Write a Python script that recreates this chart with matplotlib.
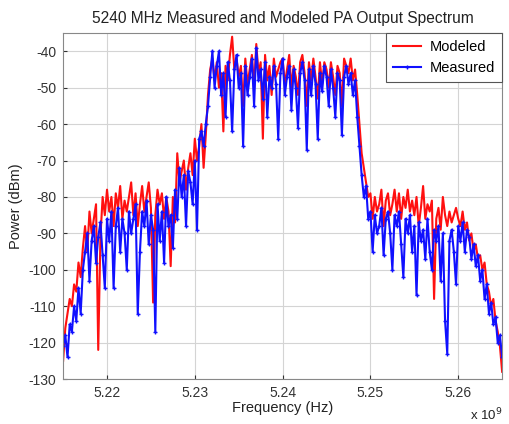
import numpy as np
import matplotlib
matplotlib.use("Agg")
import matplotlib.pyplot as plt
from matplotlib.ticker import FuncFormatter

plt.rcParams['font.family'] = ['Liberation Sans', 'DejaVu Sans']
plt.rcParams['axes.unicode_minus'] = False

# frequency grid: 201 points, 5215 .. 5265 MHz
freq_hz = np.linspace(5.215e9, 5.265e9, 201)

# modeled PA output (dBm)
modeled = [
    -125, -116, -112, -108, -110, -104, -106, -98, -102, -94,
    -88, -95, -84, -90, -86, -82, -122, -91, -80, -85,
    -78, -84, -80, -88, -79, -83, -77, -86, -81, -84,
    -80, -76, -85, -79, -88, -82, -77, -84, -80, -76,
    -83, -109, -85, -78, -82, -79, -86, -80, -84, -99,
    -80, -87, -68, -76, -73, -70, -78, -72, -68, -74,
    -64, -70, -66, -60, -72, -63, -52, -45, -42, -48,
    -43, -50, -46, -62, -44, -48, -41, -36, -45, -42,
    -47, -44, -55, -42, -49, -45, -41, -50, -38, -46,
    -43, -64, -41, -48, -44, -52, -42, -47, -45, -43,
    -42, -49, -45, -41, -50, -44, -47, -52, -43, -41,
    -46, -55, -43, -48, -42, -47, -53, -43, -49, -43,
    -45, -50, -43, -47, -52, -44, -46, -55, -42, -44,
    -46, -42, -48, -45, -52, -60, -68, -72, -76, -80,
    -79, -86, -80, -84, -82, -78, -88, -81, -79, -85,
    -82, -78, -84, -79, -86, -80, -83, -78, -84, -81,
    -85, -80, -88, -83, -77, -86, -82, -84, -81, -108,
    -86, -83, -89, -80, -85, -88, -84, -87, -85, -83,
    -86, -88, -84, -89, -87, -92, -90, -95, -93, -97,
    -96, -100, -98, -104, -106, -110, -108, -114, -117, -121,
    -128,
]

# measured PA output (dBm)
measured = [
    -121, -118, -124, -115, -117, -110, -114, -105, -112, -100,
    -95, -90, -103, -92, -88, -98, -91, -87, -96, -105,
    -86, -92, -84, -105, -88, -83, -95, -86, -90, -100,
    -84, -90, -86, -82, -112, -95, -84, -88, -81, -93,
    -85, -89, -117, -82, -92, -84, -98, -80, -88, -85,
    -94, -78, -86, -72, -80, -74, -88, -73, -76, -82,
    -70, -89, -64, -62, -66, -60, -55, -47, -40, -50,
    -44, -40, -52, -46, -58, -43, -48, -62, -45, -41,
    -50, -46, -66, -44, -52, -47, -42, -55, -39, -48,
    -45, -53, -43, -58, -47, -50, -44, -49, -64, -46,
    -42, -52, -47, -44, -56, -45, -50, -61, -46, -43,
    -48, -67, -45, -52, -44, -49, -64, -46, -51, -44,
    -47, -55, -45, -50, -58, -46, -48, -63, -47, -44,
    -49, -46, -52, -48, -58, -66, -74, -80, -77, -86,
    -84, -95, -85, -90, -88, -83, -96, -86, -84, -90,
    -100, -85, -88, -84, -93, -102, -86, -90, -85, -95,
    -88, -107, -87, -92, -89, -97, -86, -95, -100, -89,
    -92, -88, -103, -90, -114, -123, -92, -89, -95, -104,
    -88, -92, -87, -95, -89, -91, -97, -93, -99, -96,
    -103, -100, -108, -104, -112, -109, -115, -113, -120, -118,
    -124,
]

fig = plt.figure(figsize=(5.09, 4.24), dpi=100)
ax = fig.add_axes([0.124, 0.106, 0.8625, 0.816])

ax.plot(freq_hz, modeled, color='#ff1010', linewidth=1.5, label='Modeled')
ax.plot(freq_hz, measured, color='#1010ff', linewidth=1.5, marker='+',
        markersize=3.5, markeredgewidth=1.0, label='Measured')

ax.set_xlim(5.215e9, 5.265e9)
ax.set_ylim(-130, -35)
ax.set_xticks([5.22e9, 5.23e9, 5.24e9, 5.25e9, 5.26e9])
ax.set_yticks(np.arange(-130, -39, 10))
ax.xaxis.set_major_formatter(FuncFormatter(lambda v, p: '%.2f' % (v / 1e9)))
ax.tick_params(direction='in', labelsize=10, length=3, pad=5,
               colors='#333333')
ax.grid(True, color='#d4d4d4', linewidth=0.8)
for s in ax.spines.values():
    s.set_color('#888888')

ax.set_title('5240 MHz Measured and Modeled PA Output Spectrum', fontsize=11.2,
             color='#222222', pad=7)
ax.set_xlabel('Frequency (Hz)', fontsize=10.5, color='#222222', labelpad=1)
ax.set_ylabel('Power (dBm)', fontsize=10.5, color='#222222', labelpad=4)
ax.text(1.0, -0.103, r'x 10$^9$', transform=ax.transAxes, ha='right',
        va='center', fontsize=9.5, color='#222222')

leg = ax.legend(loc='upper right', fontsize=10.5, borderaxespad=0.0,
                fancybox=False, framealpha=1.0, handlelength=1.9,
                handletextpad=0.6, borderpad=0.5, labelspacing=0.45)
leg.get_frame().set_edgecolor('#555555')
leg.get_frame().set_linewidth(0.8)

fig.savefig('out.png', dpi=100)
